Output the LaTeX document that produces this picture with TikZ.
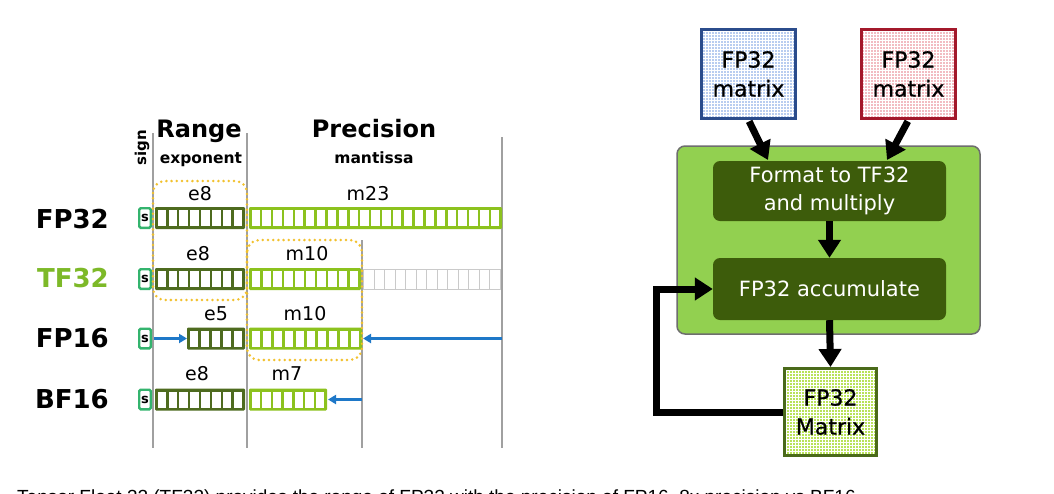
\documentclass[tikz,border=0pt]{standalone}
\usepackage{fontspec}
\setmainfont{DejaVu Sans}
\newfontfamily\capfont{Liberation Sans}
\newfontfamily\medfont[FakeBold=0.8]{DejaVu Sans}
\usetikzlibrary{arrows.meta,patterns}

\definecolor{expc}{HTML}{4E6B1F}
\definecolor{manc}{HTML}{8CC21E}
\definecolor{signc}{HTML}{34B46E}
\definecolor{grayc}{HTML}{CACACA}
\definecolor{vline}{HTML}{A0A0A0}
\definecolor{bluec}{HTML}{1E78C8}
\definecolor{yel}{HTML}{F2C12E}
\definecolor{nvgreen}{HTML}{7DB928}
\definecolor{boxgreen}{HTML}{92D050}
\definecolor{boxedge}{HTML}{6E6E6E}
\definecolor{darkg}{HTML}{3D5C0B}
\definecolor{bluebd}{HTML}{2B4C8C}
\definecolor{bluefill}{HTML}{B9CDF0}
\definecolor{redbd}{HTML}{A3192B}
\definecolor{redfill}{HTML}{F2BCC2}
\definecolor{mgfill}{HTML}{B9E25A}
\definecolor{mgbd}{HTML}{4A6A1A}

% x0, x1, ytop, n, colour
\newcommand\bitbar[5]{%
  \fill[#5,rounded corners=1.2pt] (#1,#3) rectangle (#2,#3+22);
  \pgfmathsetmacro\bp{(#2-#1-2.6)/#4}
  \foreach \i in {1,...,#4}{\fill[white] ({#1+2.6+(\i-1)*\bp},#3+3) rectangle ({#1+\i*\bp},#3+19);}
}

\tikzset{
  fmtlabel/.style={anchor=base east, inner sep=0pt, font=\bfseries\fontsize{26}{26}\selectfont},
  bitlabel/.style={anchor=base, inner sep=0pt, font=\fontsize{19}{19}\selectfont},
  head/.style={anchor=base, inner sep=0pt, font=\bfseries\fontsize{24}{24}\selectfont},
  subhead/.style={anchor=base, inner sep=0pt, font=\bfseries\fontsize{15.5}{15.5}\selectfont},
  signbox/.style={draw=signc, line width=2.4pt, fill=white, minimum width=11.6pt, minimum height=19.6pt, inner sep=0pt, rounded corners=1.5pt, font=\bfseries\fontsize{13}{13}\selectfont},
  vl/.style={vline, line width=1.2pt},
  yeldot/.style={yel, line width=2.8pt, dash pattern=on 0pt off 5.2pt, line cap=round, rounded corners=12pt},
  bluearrow/.style={bluec, line width=2.6pt, -{Triangle[length=8pt,width=9pt]}},
  mat/.style={minimum width=94.4pt, minimum height=89.4pt, line width=2.6pt, inner sep=0pt, align=center, font=\medfont\fontsize{22}{29}\selectfont},
  proc/.style={fill=darkg, rounded corners=7pt, text=white, minimum width=233pt, inner sep=0pt, align=center, font=\fontsize{21}{28}\selectfont},
  fat/.style={line width=7pt, -{Triangle[length=18pt,width=22pt]}},
}

\begin{document}
\begin{tikzpicture}[x=1pt,y=-1pt]
\useasboundingbox (0,0) rectangle (1054,493);
\fill[white] (0,0) rectangle (1054,493);

% ---------- left: bit layouts ----------
\draw[vl] (153,133) -- (153,448);
\draw[vl] (247,133) -- (247,448);
\draw[vl] (502,137) -- (502,448);
\draw[vl] (362,240) -- (362,448);

\node[head] (range) at (199,137) {Range};
\node[head] (prec) at (374,137) {Precision};
\node[subhead] (expo) at (201,163) {exponent};
\node[subhead] (mant) at (374,163) {mantissa};
\node[anchor=base, inner sep=0pt, rotate=90, font=\bfseries\fontsize{15}{15}\selectfont] (sign) at (146,148) {sign};

% FP32
\node[fmtlabel] (lfp32) at (109,228) {FP32};
\node[signbox] (s1) at (145,218) {s};
\bitbar{155}{245}{207}{8}{expc}
\bitbar{249}{502}{207}{23}{manc}
\node[bitlabel] (e1) at (200,200) {e8};
\node[bitlabel] (m1) at (368,200) {m23};

% TF32
\node[fmtlabel, text=nvgreen] (ltf32) at (109,287) {TF32};
\node[signbox] (s2) at (145,279) {s};
\bitbar{155}{245}{268}{8}{expc}
\bitbar{249}{361}{268}{10}{manc}
\draw[grayc, line width=0.9pt] (363.5,269) rectangle (500,289);
\foreach \i in {1,...,12}{\draw[grayc, line width=0.9pt] ({363.5+\i*136.5/13},269) -- ++(0,20);}
\node[bitlabel] (e2) at (198,260) {e8};
\node[bitlabel] (m2) at (307,260) {m10};

% FP16
\node[fmtlabel] (lfp16) at (109,347) {FP16};
\node[signbox] (s3) at (145,338.5) {s};
\bitbar{187}{245}{327.5}{5}{expc}
\bitbar{249}{362}{327.5}{10}{manc}
\node[bitlabel] (e3) at (216,320) {e5};
\node[bitlabel] (m3) at (305,320) {m10};
\coordinate (b1s) at (154,338.5);
\coordinate (b1e) at (187,338.5);
\coordinate (b2s) at (502,338.5);
\coordinate (b2e) at (363,338.5);
\draw[bluearrow] (b1s) -- (b1e);
\draw[bluearrow] (b2s) -- (b2e);

% BF16
\node[fmtlabel] (lbf16) at (109,408) {BF16};
\node[signbox] (s4) at (145,399.5) {s};
\bitbar{155}{245}{388.5}{8}{expc}
\bitbar{249}{327}{388.5}{7}{manc}
\node[bitlabel] (e4) at (197,380) {e8};
\node[bitlabel] (m4) at (287,380) {m7};
\coordinate (b3s) at (362,399.5);
\coordinate (b3e) at (328,399.5);
\draw[bluearrow] (b3s) -- (b3e);

% dotted outlines
\draw[yeldot] (153,181) rectangle (247,300);
\draw[yeldot] (247,240) rectangle (362,360);

% ---------- right: TF32 tensor core flow ----------
\node[draw=boxedge, fill=boxgreen, rounded corners=8pt, line width=1.5pt, minimum width=303pt, minimum height=188pt, inner sep=0pt] (G) at (828.5,240) {};
\node[proc, minimum height=60pt] (fmt) at (829.5,191) {Format to TF32\\and multiply};
\node[proc, minimum height=62pt] (acc) at (829.5,289) {FP32 accumulate};

\node[mat, draw=bluebd, preaction={fill=bluefill}, pattern=grid, pattern color=white] (A) at (748.5,74) {FP32\\matrix};
\node[mat, draw=redbd, preaction={fill=redfill}, pattern=grid, pattern color=white] (B) at (908.5,74) {FP32\\matrix};
\node[mat, draw=mgbd, minimum width=92.4pt, minimum height=87.4pt, preaction={fill=mgfill}, pattern=grid, pattern color=white] (M) at (830.5,412) {FP32\\Matrix};

\coordinate (ta) at (768,160);
\coordinate (tb) at (887,160);
\draw[fat, shorten <=1.5pt] (A.south) -- (ta);
\draw[fat, shorten <=1.5pt] (B.south) -- (tb);
\draw[fat] (fmt.south) -- (acc.north);
\draw[fat] (acc.south) -- (M.north);
\draw[fat, line join=miter] (M.west) -- ++(-127,0) |- (acc.west);

% caption (cut off by the page edge, as in the reference)
\node[anchor=base west, inner sep=0pt, font=\capfont\fontsize{19}{19}\selectfont] (cap) at (17,503.5) {Tensor Float 32 (TF32) provides the range of FP32 with the precision of FP16, 8x precision vs BF16};
\end{tikzpicture}
\end{document}
